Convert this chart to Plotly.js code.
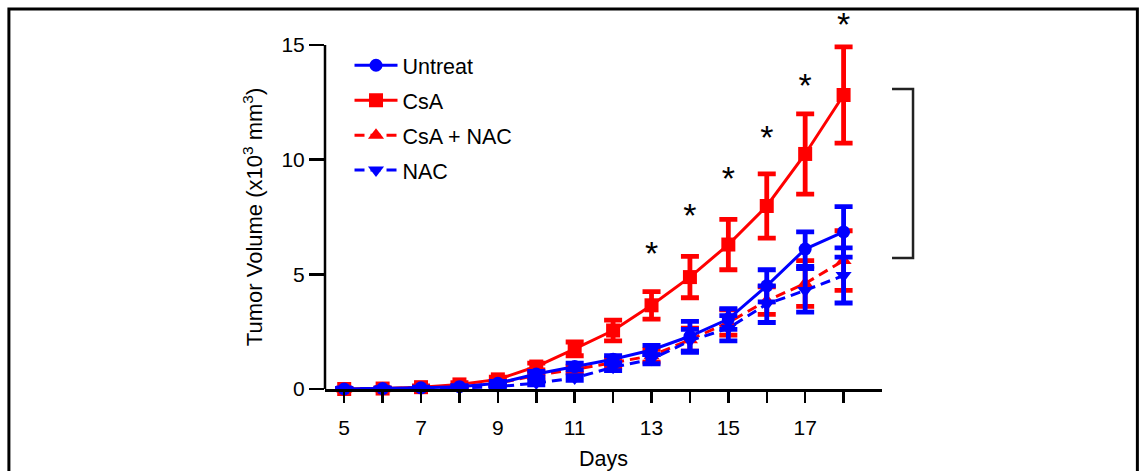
<!DOCTYPE html>
<html>
<head>
<meta charset="utf-8">
<script src="https://cdn.plot.ly/plotly-3.0.1.min.js"></script>
<style>
  html, body { margin: 0; padding: 0; background: #fff; }
  #chart { width: 1139px; height: 471px; }
</style>
</head>
<body>
<div id="chart"></div>
<script>
// ---- data ----
const days = [5, 6, 7, 8, 9, 10, 11, 12, 13, 14, 15, 16, 17, 18];

const untreat     = [0, 0.02, 0.05, 0.10, 0.25, 0.65, 0.98, 1.30, 1.70, 2.30, 3.05, 4.50, 6.10, 6.85];
const untreatErr  = [0.02, 0.02, 0.03, 0.05, 0.08, 0.12, 0.15, 0.15, 0.20, 0.65, 0.45, 0.70, 0.75, 1.10];

const csa         = [0, 0.02, 0.08, 0.20, 0.42, 0.98, 1.75, 2.55, 3.65, 4.88, 6.30, 7.98, 10.25, 12.82];
const csaErr      = [0.02, 0.03, 0.05, 0.08, 0.10, 0.15, 0.30, 0.45, 0.60, 0.90, 1.10, 1.40, 1.75, 2.10];

const csaNac      = [0, 0.01, 0.04, 0.10, 0.25, 0.60, 0.85, 1.15, 1.45, 2.15, 2.90, 3.85, 4.60, 5.60];
const csaNacErr   = [0.01, 0.02, 0.03, 0.05, 0.07, 0.10, 0.15, 0.20, 0.28, 0.50, 0.55, 0.60, 1.00, 1.30];

const nac         = [0, 0.01, 0.02, 0.05, 0.10, 0.26, 0.48, 0.95, 1.30, 2.10, 2.65, 3.70, 4.30, 4.95];
const nacErr      = [0.01, 0.01, 0.02, 0.03, 0.05, 0.08, 0.10, 0.15, 0.20, 0.50, 0.55, 0.80, 0.95, 1.20];

const starDays    = [13, 14, 15, 16, 17, 18];
const starY       = [5.8, 7.45, 9.05, 10.85, 13.1, 15.75];

const xTickVals   = [5, 7, 9, 11, 13, 15, 17];
const xMinorVals  = [6, 8, 10, 12, 14, 16, 18];
const yTickVals   = [0, 5, 10, 15];

const bracketTop = 13.08, bracketBottom = 5.71;

// ---- styling ----
const RED = '#ff0000', BLUE = '#0000ff';
const FONT = 'Liberation Sans, Arial, Helvetica, sans-serif';
const yMax = 16.44;
const yAxisTop = 15;

function series(name, y, err, color, symbol, dash, size, rank) {
  return {
    x: days, y: y, name: name, type: 'scatter', mode: 'lines+markers',
    line: {color: color, width: 3, dash: dash},
    marker: {color: color, symbol: symbol, size: size},
    error_y: {type: 'data', array: err, visible: true, color: color, thickness: 4.8, width: 9},
    cliponaxis: false, legendrank: rank, legendgroup: name
  };
}

const traces = [
  series('CsA', csa, csaErr, RED, 'square', 'solid', 14, 2),
  series('CsA + NAC', csaNac, csaNacErr, RED, 'triangle-up', '10px,6px', 14, 3),
  series('Untreat', untreat, untreatErr, BLUE, 'circle', 'solid', 13, 1),
  series('NAC', nac, nacErr, BLUE, 'triangle-down', '10px,6px', 14, 4),
  {
    x: starDays, y: starY, mode: 'text', type: 'scatter', text: starDays.map(() => '*'),
    textfont: {family: FONT, size: 34, color: '#000'}, textposition: 'middle center',
    showlegend: false, cliponaxis: false, hoverinfo: 'skip'
  }
];

const yPaper = v => v / yMax;

const layout = {
  width: 1139, height: 471,
  margin: {l: 325, r: 257, t: 12, b: 82},
  paper_bgcolor: '#fff', plot_bgcolor: 'rgba(0,0,0,0)',
  font: {family: FONT, size: 21, color: '#000'},
  showlegend: true,
  legend: {
    x: 0.044, y: 0.913, xanchor: 'left', yanchor: 'top',
    font: {family: FONT, size: 21.5, color: '#000'},
    bgcolor: 'rgba(0,0,0,0)', tracegroupgap: 4, traceorder: 'grouped',
    itemwidth: 43
  },
  xaxis: {
    range: [4.5, 19], showgrid: false, zeroline: false,
    showline: true, linecolor: '#000', linewidth: 2.5,
    ticks: 'outside', ticklen: 11, tickwidth: 2.5, tickcolor: '#000',
    tickvals: xTickVals, ticklabelstandoff: 7,
    tickfont: {family: FONT, size: 21},
    minor: {tickvals: xMinorVals, ticks: 'outside', ticklen: 11, tickwidth: 2.5, tickcolor: '#000', showgrid: false},
    title: {text: 'Days', font: {family: FONT, size: 21.5}, standoff: 14}
  },
  yaxis: {
    range: [0, yMax], showgrid: false, zeroline: false, showline: false,
    ticks: 'outside', ticklen: 15, tickwidth: 2.5, tickcolor: '#000',
    tickvals: yTickVals, tickfont: {family: FONT, size: 21}
  },
  annotations: [{
    text: 'Tumor Volume (x10<sup>3</sup> mm<sup>3</sup>)',
    xref: 'paper', yref: 'paper', x: -0.129, y: yPaper(7.5),
    xanchor: 'center', yanchor: 'middle', textangle: -90, showarrow: false,
    font: {family: FONT, size: 22, color: '#000'}
  }],
  shapes: [
    {type: 'line', xref: 'paper', yref: 'paper', x0: 0, x1: 0, y0: 0, y1: yPaper(yAxisTop),
     line: {color: '#000', width: 2.5}},
    {type: 'path', xref: 'paper', yref: 'paper',
     path: 'M 1.018 ' + yPaper(bracketTop) + ' L 1.0557 ' + yPaper(bracketTop) +
           ' L 1.0557 ' + yPaper(bracketBottom) + ' L 1.018 ' + yPaper(bracketBottom),
     line: {color: '#222', width: 2.5}},
    {type: 'rect', xref: 'paper', yref: 'paper', x0: -0.5675, x1: 1.4585, y0: -0.4, y1: 1.008,
     line: {color: '#000', width: 3}}
  ]
};

Plotly.newPlot('chart', traces, layout, {staticPlot: true, displayModeBar: false});
</script>
</body>
</html>
